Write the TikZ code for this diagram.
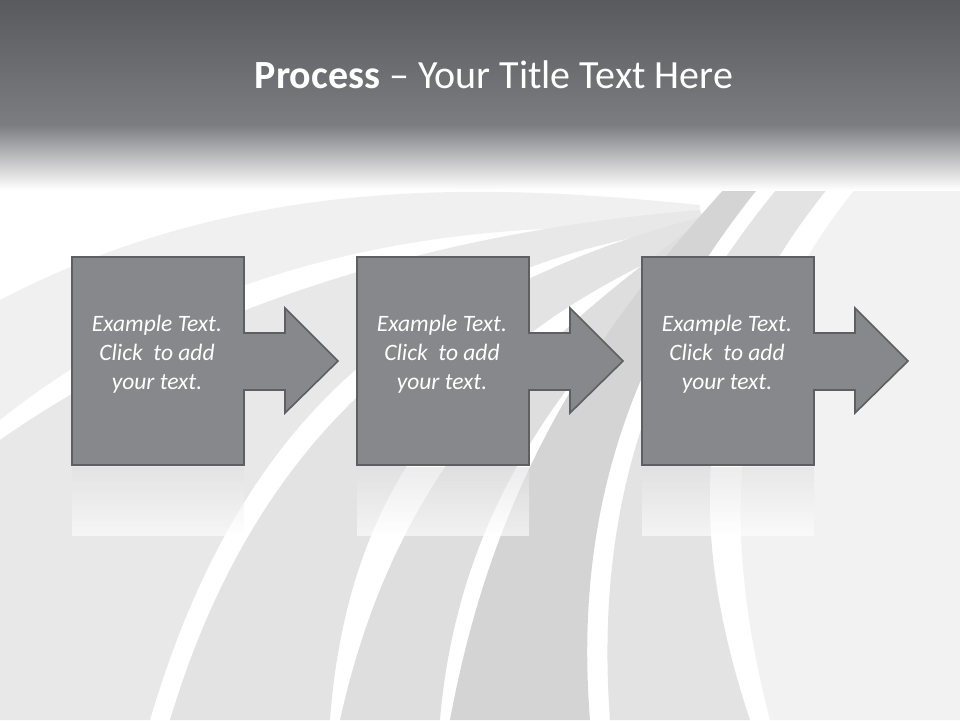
\documentclass[tikz,border=0pt]{standalone}
\usepackage{fontspec}
\setmainfont{Carlito}
\begin{document}
\begin{tikzpicture}[x=1pt,y=-1pt,
  stepbox/.style={fill=boxgray,draw=boxedge,line width=1.6pt,line join=miter},
  steptext/.style={text=white,font=\itshape\fontsize{23.5}{29}\selectfont,align=center}]
\definecolor{boxgray}{HTML}{87888C}
\definecolor{boxedge}{HTML}{5E5F63}
\definecolor{topdark}{HTML}{595A5E}
\definecolor{topmid}{HTML}{7C7D81}
\useasboundingbox (0,0) rectangle (960,720);
\fill[white] (0,0) rectangle (960,720);
% background swooshes
\fill[black!6] (0,300) .. controls (250,170) and (500,185) .. (700,205) -- (700,230) .. controls (450,215) and (200,260) .. (0,420) -- cycle;
\fill[black!9] (0,440) .. controls (200,300) and (450,230) .. (700,210) -- (705,225) .. controls (450,260) and (250,380) .. (150,720) -- (0,720) -- cycle;
\fill[black!11] (170,720) .. controls (260,420) and (450,280) .. (710,215) -- (720,230) .. controls (500,320) and (350,450) .. (330,720) -- cycle;
\fill[black!13] (340,720) .. controls (400,450) and (550,330) .. (730,200) -- (745,205) .. controls (600,330) and (460,480) .. (440,720) -- cycle;
\fill[black!17] (450,720) .. controls (500,450) and (620,300) .. (760,150) -- (790,150) .. controls (660,300) and (570,470) .. (590,720) -- cycle;
\fill[black!11] (610,720) .. controls (590,450) and (690,280) .. (820,140) -- (870,140) .. controls (730,290) and (660,450) .. (750,720) -- cycle;
\fill[black!5] (770,720) .. controls (700,450) and (760,280) .. (900,140) -- (960,140) -- (960,720) -- cycle;
% title bar
\shade[top color=topdark,bottom color=topmid] (0,0) rectangle (960,125);
\shade[top color=topmid,bottom color=white,opacity=1] (0,125) rectangle (960,190);
\node[text=white,font=\fontsize{40}{46}\selectfont] (title) at (494,75) {\textbf{Process} -- Your Title Text Here};
% reflections
\foreach \dx in {0,285,570}{
  \shade[top color=black!12,bottom color=white,opacity=0.6] (72+\dx,467) rectangle (244+\dx,535);
}
% step shapes
\foreach \dx/\n in {0/a,285/b,570/c}{
  \draw[stepbox] (72+\dx,257) -- (244+\dx,257) -- (244+\dx,333) -- (285+\dx,333) -- (285+\dx,308) -- (338+\dx,361) -- (285+\dx,413) -- (285+\dx,390) -- (244+\dx,390) -- (244+\dx,465) -- (72+\dx,465) -- cycle;
  \node[steptext] (t\n) at (157+\dx,354) {Example Text.\\Click\ \ to add\\your text.};
}
\end{tikzpicture}
\end{document}
